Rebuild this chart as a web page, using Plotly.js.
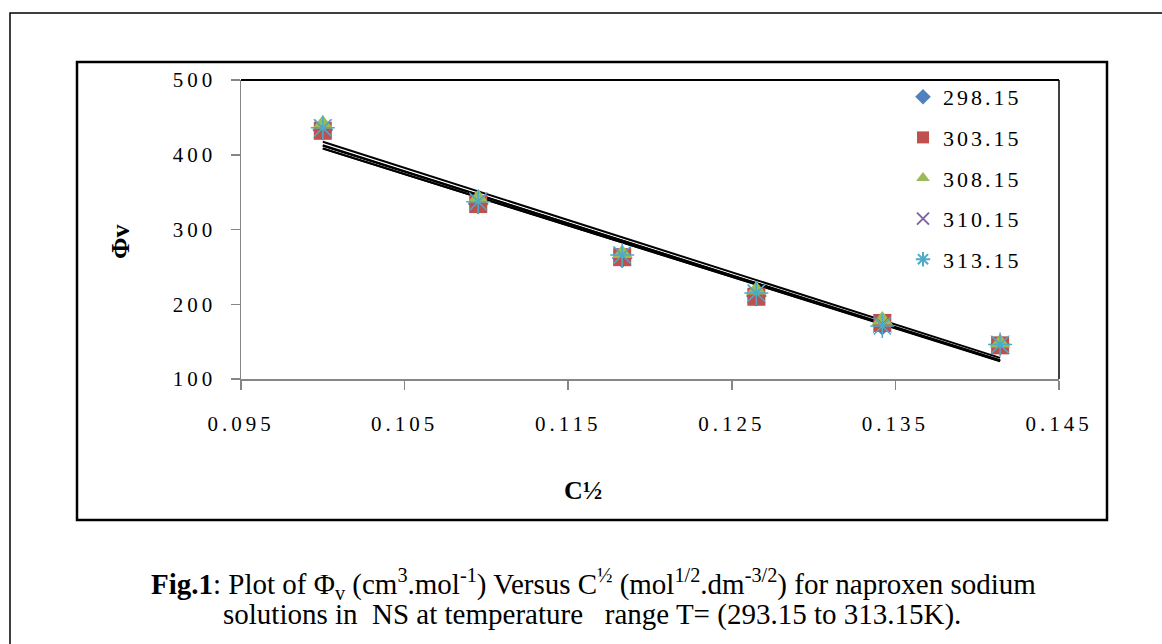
<!DOCTYPE html>
<html>
<head>
<meta charset="utf-8">
<script src="https://cdn.plot.ly/plotly-3.0.1.min.js"></script>
<style>
  html, body { margin: 0; padding: 0; background: #fff; }
  #chart { width: 1162px; height: 644px; }
  .xtick text, .ytick text { letter-spacing: 4px; }
  .legendtext { letter-spacing: 3px; }
</style>
</head>
<body>
<div id="chart"></div>
<script>
// ---- data ----
const xValues = [0.1000, 0.1095, 0.1183, 0.1265, 0.1342, 0.1414];
const seriesNames = ['298.15', '303.15', '308.15', '310.15', '313.15'];
const phi29815 = [433, 334, 262, 211, 172, 146];
const phi30315 = [432, 334, 263, 210, 175, 145];
const phi30815 = [441, 342, 268, 219, 179, 148];
const phi31015 = [435, 338, 265, 214, 174, 146];
const phi31315 = [436, 337, 266, 215, 171, 146];
const xTickVals = [0.095, 0.105, 0.115, 0.125, 0.135, 0.145];
const yTickVals = [100, 200, 300, 400, 500];

const seriesValues = [phi29815, phi30315, phi30815, phi31015, phi31315];

// ---- styles ----
const markerStyles = [
  {symbol: 'diamond', size: 16, color: '#4F81BD'},
  {symbol: 'square', size: 18, color: '#C0504D'},
  {symbol: 'triangle-up', size: 18, color: '#9BBB59'},
  {symbol: 'x-thin-open', size: 18, color: '#8064A2', line: {color: '#8064A2', width: 1}},
  {symbol: 'asterisk-open', size: 20, color: '#4BACC6', line: {color: '#4BACC6', width: 1.5}}
];

// plot-area pixel geometry
const L = 241, R = 1059, T = 80, B = 379;
const W = 1162, H = 644;
const px = x => (x - L) / (R - L);
const py = y => (B - y) / (B - T);

function linfit(xs, ys) {
  const n = xs.length;
  const mx = xs.reduce((a, b) => a + b, 0) / n;
  const my = ys.reduce((a, b) => a + b, 0) / n;
  let sxy = 0, sxx = 0;
  for (let i = 0; i < n; i++) { sxy += (xs[i] - mx) * (ys[i] - my); sxx += (xs[i] - mx) ** 2; }
  const m = sxy / sxx;
  return {m: m, b: my - m * mx};
}

const traces = [];
// trendlines first (behind markers)
seriesValues.forEach((ys, i) => {
  const f = linfit(xValues, ys);
  const x0 = xValues[0], x1 = xValues[xValues.length - 1];
  traces.push({
    x: [x0, x1], y: [f.m * x0 + f.b, f.m * x1 + f.b],
    mode: 'lines', type: 'scatter', showlegend: false, hoverinfo: 'skip',
    line: {color: '#000', width: 2}
  });
});
seriesValues.forEach((ys, i) => {
  traces.push({
    x: xValues, y: ys, name: seriesNames[i], type: 'scatter', mode: 'markers',
    legendgroup: 'g' + i,
    marker: markerStyles[i]
  });
});

const fontSerif = 'Liberation Serif';

const shapes = [
  // outer frame
  {type: 'rect', xref: 'paper', yref: 'paper', x0: px(10), x1: px(1175), y0: py(13), y1: py(655),
   line: {color: '#000', width: 1.5}},
  // chart frame
  {type: 'rect', xref: 'paper', yref: 'paper', x0: px(77), x1: px(1107), y0: py(62), y1: py(520),
   line: {color: '#000', width: 2.5}},
  // plot area top and right border
  {type: 'line', xref: 'paper', yref: 'paper', x0: 0, x1: 1, y0: 1, y1: 1, line: {color: '#000', width: 2}},
  {type: 'line', xref: 'paper', yref: 'paper', x0: 1, x1: 1, y0: 0, y1: 1, line: {color: '#000', width: 1.5}}
];

const ann = (x, y, text, size, extra) => Object.assign({
  xref: 'paper', yref: 'paper', x: px(x), y: py(y), text: text,
  xanchor: 'center', yanchor: 'middle', showarrow: false,
  font: {family: fontSerif, size: size, color: '#000'}
}, extra || {});

const annotations = [
  ann(120, 242, '<b>Φv</b>', 26, {textangle: -90}),
  ann(583, 490, '<b>C½</b>', 26),
  ann(593, 584, '<b>Fig.1</b>: Plot of Φ<sub>v</sub> (cm<sup>3</sup>.mol<sup>-1</sup>) Versus C<sup>½</sup> (mol<sup>1/2</sup>.dm<sup>-3/2</sup>) for naproxen sodium', 29),
  ann(592, 614, 'solutions in  NS at temperature   range T= (293.15 to 313.15K).', 29)
];

const layout = {
  width: W, height: H,
  margin: {l: L, r: W - R, t: T, b: H - B, pad: 0},
  paper_bgcolor: '#fff', plot_bgcolor: '#fff',
  showlegend: true,
  legend: {
    x: px(903), y: py(76), xanchor: 'left', yanchor: 'top',
    bgcolor: 'rgba(0,0,0,0)', borderwidth: 0,
    font: {family: fontSerif, size: 22, color: '#000'},
    traceorder: 'grouped', tracegroupgap: 9, itemsizing: 'constant'
  },
  xaxis: {
    range: [0.095, 0.145], tickvals: xTickVals, ticktext: xTickVals.map(v => v.toFixed(3)),
    showgrid: false, zeroline: false, showline: true, linecolor: '#868686', linewidth: 1.5,
    ticks: 'outside', ticklen: 9, tickcolor: '#868686', tickwidth: 1.5,
    ticklabelstandoff: 16,
    tickfont: {family: fontSerif, size: 21, color: '#000'}
  },
  yaxis: {
    range: [100, 500], tickvals: yTickVals,
    showgrid: false, zeroline: false, showline: true, linecolor: '#868686', linewidth: 1.5,
    ticks: 'outside', ticklen: 9, tickcolor: '#868686', tickwidth: 1.5,
    ticklabelstandoff: 10,
    tickfont: {family: fontSerif, size: 21, color: '#000'}
  },
  shapes: shapes,
  annotations: annotations
};

Plotly.newPlot('chart', traces, layout, {displayModeBar: false, staticPlot: true});
</script>
</body>
</html>
